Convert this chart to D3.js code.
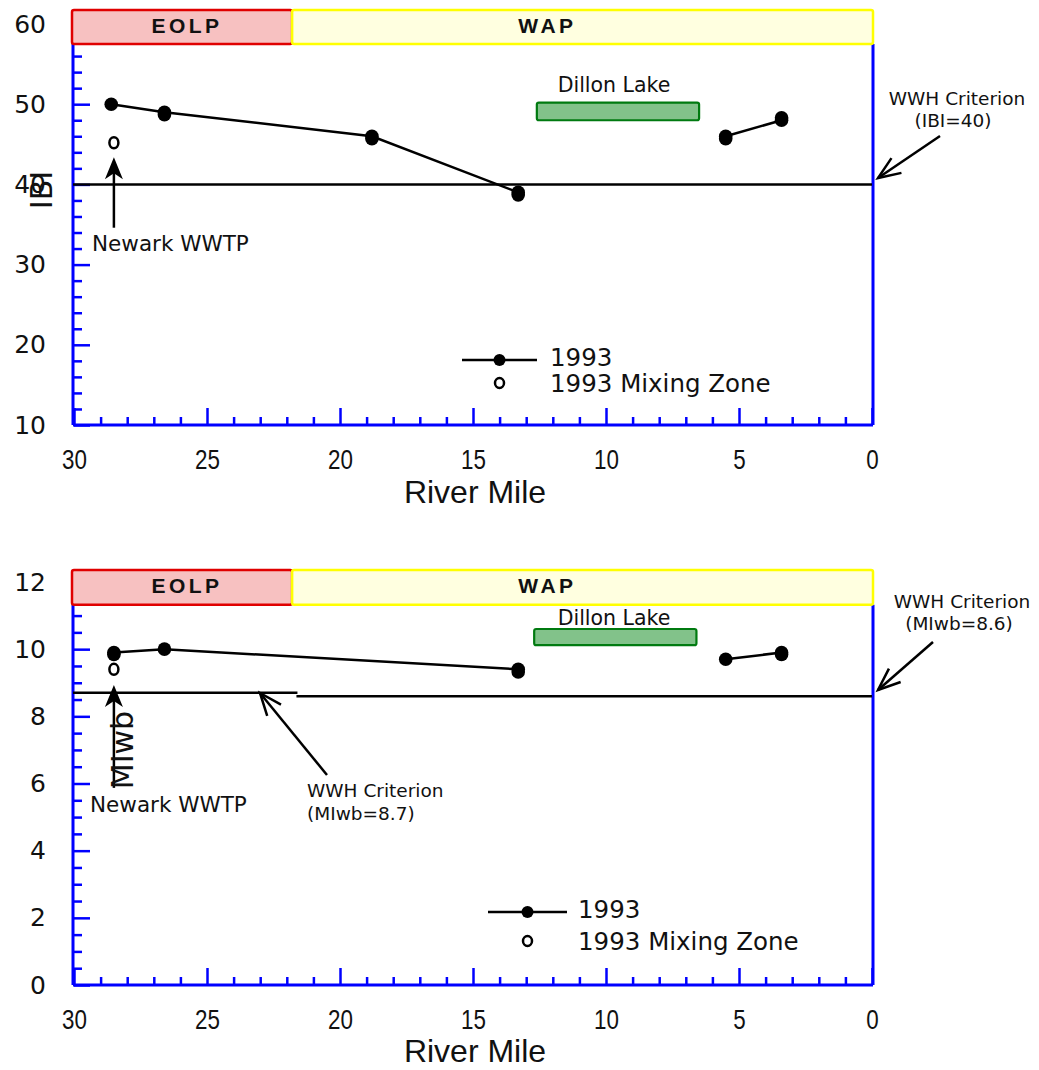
<!DOCTYPE html>
<html><head><meta charset="utf-8">
<script src="https://cdn.jsdelivr.net/npm/d3@7"></script>
<style>body{margin:0;background:#fff} svg{display:block}</style>
</head><body>
<svg id="c" width="1039" height="1070"></svg>
<script>
// ---------- DATA ----------
const xMajorTicks = [30, 25, 20, 15, 10, 5, 0];
const bandNames = ["EOLP", "WAP"];
const bandStart = [30, 21.8];
const bandEnd = [21.8, 0];
const bandLabelRm = [25.75, 12.2];
const dillonStartTop = 12.6, dillonEndTop = 6.5;
const dillonStartBot = 12.7, dillonEndBot = 6.6;

const ibiRm = [28.6, 26.6, 18.8, 13.3, 5.5, 3.4];
const ibiVal = [50, 49, 46, 39, 46, 48];
const ibiSeg = [0, 0, 0, 0, 1, 1];
const ibiRepRm = [26.6, 18.8, 13.3, 5.5, 3.4];
const ibiRepVal = [48.7, 45.7, 38.7, 45.7, 48.3];
const ibiMixRm = [28.5];
const ibiMixVal = [45.2];
const ibiYTicks = [10, 20, 30, 40, 50, 60];
const ibiCritFrom = [30], ibiCritTo = [0], ibiCritVal = [40];

const miwbRm = [28.5, 26.6, 13.3, 5.5, 3.4];
const miwbVal = [9.9, 10.0, 9.4, 9.7, 9.9];
const miwbSeg = [0, 0, 0, 1, 1];
const miwbRepRm = [28.5, 13.3, 3.4];
const miwbRepVal = [9.84, 9.32, 9.84];
const miwbMixRm = [28.5];
const miwbMixVal = [9.4];
const miwbYTicks = [0, 2, 4, 6, 8, 10, 12];
const miwbCritFrom = [30, 21.6], miwbCritTo = [21.6, 0], miwbCritVal = [8.7, 8.6];

// ---------- SETUP ----------
const svg = d3.select("#c");
const BLUE = "#0000ff";
const x = d3.scaleLinear().domain([30, 0]).range([74, 872]);
const xMinor = d3.range(0, 31, 1).filter(v => v % 5 !== 0);

const panels = [
  {
    y: d3.scaleLinear().domain([10, 60]).range([425, 24]),
    yMin: 10, axisTop: 57.5, bandLo: 57.5, bandHi: 61.75, minorStep: 2,
    yTicks: ibiYTicks, yLabel: "IBI", yLabelPos: [41, 190],
    rm: ibiRm, val: ibiVal, seg: ibiSeg, repRm: ibiRepRm, repVal: ibiRepVal,
    mixRm: ibiMixRm, mixVal: ibiMixVal,
    critFrom: ibiCritFrom, critTo: ibiCritTo, critVal: ibiCritVal,
    dillon: [dillonStartTop, dillonEndTop, 48, 50.2], dillonLabel: [614, 92],
    newark: [28.5, 34.6, 43.4], newarkText: [92, 251],
    legend: {x1: 462, x2: 537, y: 360, y2: 383, tx: 550},
    xLabelY: 503,
    crit: [{tip: [878, 178], tail: [940, 136], lines: ["WWH Criterion", "(IBI=40)"], tx: [957, 953], ty: [105, 127], anchor: "middle"}]
  },
  {
    y: d3.scaleLinear().domain([0, 12]).range([985, 582]),
    yMin: 0, axisTop: 11.32, bandLo: 11.32, bandHi: 12.36, minorStep: 0.5,
    yTicks: miwbYTicks, yLabel: "MIwb", yLabelPos: [122, 750],
    rm: miwbRm, val: miwbVal, seg: miwbSeg, repRm: miwbRepRm, repVal: miwbRepVal,
    mixRm: miwbMixRm, mixVal: miwbMixVal,
    critFrom: miwbCritFrom, critTo: miwbCritTo, critVal: miwbCritVal,
    dillon: [dillonStartBot, dillonEndBot, 10.12, 10.6], dillonLabel: [614, 625],
    newark: [28.5, 5.87, 8.93], newarkText: [90, 812],
    legend: {x1: 488, x2: 567, y: 912, y2: 941, tx: 578},
    xLabelY: 1062,
    crit: [
      {tip: [878, 690], tail: [933, 642], lines: ["WWH Criterion", "(MIwb=8.6)"], tx: [962, 959], ty: [608, 630], anchor: "middle"},
      {tip: [260, 693], tail: [327, 775], lines: ["WWH Criterion", "(MIwb=8.7)"], tx: [307, 307], ty: [797, 820], anchor: "start"}
    ]
  }
];

const FONT = "'DejaVu Sans', sans-serif";

function openArrow(g, tip, tail) {
  const ang = Math.atan2(tail[1] - tip[1], tail[0] - tip[0]);
  const L = 24, a = 0.38;
  g.append("line").attr("x1", tail[0]).attr("y1", tail[1]).attr("x2", tip[0]).attr("y2", tip[1])
    .attr("stroke", "#000").attr("stroke-width", 2.5);
  g.append("path")
    .attr("d", `M${tip[0] + L * Math.cos(ang + a)},${tip[1] + L * Math.sin(ang + a)} L${tip[0]},${tip[1]} L${tip[0] + L * Math.cos(ang - a)},${tip[1] + L * Math.sin(ang - a)}`)
    .attr("fill", "none").attr("stroke", "#000").attr("stroke-width", 2.5);
}

panels.forEach(p => {
  const y = p.y;
  const g = svg.append("g");
  const yBase = y(p.yMin);

  // y axis ticks (inside)
  const yMinor = d3.range(p.yMin, p.axisTop + 1e-9, p.minorStep)
    .filter(v => !p.yTicks.some(t => Math.abs(t - v) < 1e-6));
  g.append("g").attr("transform", `translate(${x(30)},0)`)
    .call(d3.axisLeft(y).tickValues(yMinor).tickSize(-8).tickFormat(""))
    .call(a => { a.select(".domain").remove(); a.selectAll("line").attr("stroke", BLUE).attr("stroke-width", 2.5); });
  g.append("g").attr("transform", `translate(${x(30)},0)`)
    .call(d3.axisLeft(y).tickValues(p.yTicks).tickSize(-16).tickPadding(28).tickFormat(d3.format("d")))
    .call(a => {
      a.select(".domain").remove();
      a.selectAll("line").attr("stroke", BLUE).attr("stroke-width", 2.5);
      a.selectAll("text").attr("font-family", FONT).attr("font-size", 25).attr("fill", "#111");
    });

  // x axis
  g.append("g").attr("transform", `translate(0,${yBase})`)
    .call(d3.axisBottom(x).tickValues(xMinor).tickSize(-8).tickFormat(""))
    .call(a => { a.select(".domain").remove(); a.selectAll("line").attr("stroke", BLUE).attr("stroke-width", 2.5); });
  g.append("g").attr("transform", `translate(0,${yBase})`)
    .call(d3.axisBottom(x).tickValues(xMajorTicks).tickSize(-17).tickPadding(24).tickFormat(d3.format("d")))
    .call(a => {
      a.select(".domain").remove();
      a.selectAll("line").attr("stroke", BLUE).attr("stroke-width", 2.5);
      a.selectAll("text").attr("font-family", "'Liberation Sans',Arial,sans-serif").attr("font-size", 28)
        .attr("transform", "scale(0.8,1)").attr("fill", "#111");
    });

  // frame lines
  g.append("line").attr("x1", x(30) - 1).attr("x2", x(0) + 1).attr("y1", yBase).attr("y2", yBase).attr("stroke", BLUE).attr("stroke-width", 3);
  g.append("line").attr("x1", x(30) - 1).attr("x2", x(30) - 1).attr("y1", y(p.axisTop)).attr("y2", yBase).attr("stroke", BLUE).attr("stroke-width", 3);
  g.append("line").attr("x1", x(0) + 1).attr("x2", x(0) + 1).attr("y1", y(p.axisTop)).attr("y2", yBase).attr("stroke", BLUE).attr("stroke-width", 3);

  // bands
  const bandFill = ["#f7c1c1", "#ffffe0"], bandStroke = ["#e00000", "#ffff00"];
  bandNames.forEach((n, i) => {
    g.append("rect")
      .attr("x", x(bandStart[i]) - (i === 0 ? 2 : 0)).attr("y", y(p.bandHi))
      .attr("width", x(bandEnd[i]) - x(bandStart[i]) + (i === 0 ? 2 : 1)).attr("height", y(p.bandLo) - y(p.bandHi))
      .attr("rx", 2).attr("fill", bandFill[i]).attr("stroke", bandStroke[i]).attr("stroke-width", 2.5);
  });
  bandNames.forEach((n, i) => {
    g.append("text").attr("x", x(bandLabelRm[i])).attr("y", (y(p.bandHi) + y(p.bandLo)) / 2 - 2)
      .attr("text-anchor", "middle").attr("dominant-baseline", "central")
      .attr("font-family", "'Liberation Sans',Arial,sans-serif").attr("font-weight", "bold")
      .attr("font-size", 21).attr("letter-spacing", 3.5).attr("fill", "#111").text(n);
  });

  // criterion lines
  p.critVal.forEach((v, i) => {
    g.append("line").attr("x1", x(p.critFrom[i]) - 1).attr("x2", x(p.critTo[i]))
      .attr("y1", y(v)).attr("y2", y(v)).attr("stroke", "#000").attr("stroke-width", 2.5);
  });

  // Dillon Lake
  const dl = p.dillon;
  g.append("rect").attr("x", x(dl[0])).attr("y", y(dl[3]))
    .attr("width", x(dl[1]) - x(dl[0])).attr("height", y(dl[2]) - y(dl[3]))
    .attr("rx", 2).attr("fill", "#82c28a").attr("stroke", "#007a10").attr("stroke-width", 2.2);
  g.append("text").attr("x", p.dillonLabel[0]).attr("y", p.dillonLabel[1]).attr("text-anchor", "middle")
    .attr("font-family", FONT).attr("font-size", 20.5).attr("fill", "#111").text("Dillon Lake");

  // data line
  const pts = p.rm.map((r, i) => ({r, v: p.val[i], s: p.seg[i]}));
  const line = d3.line().x(d => x(d.r)).y(d => y(d.v));
  d3.groups(pts, d => d.s).forEach(([s, arr]) => {
    g.append("path").attr("d", line(arr)).attr("fill", "none").attr("stroke", "#000").attr("stroke-width", 2.5);
  });
  const reps = p.repRm.map((r, i) => ({r, v: p.repVal[i]}));
  g.selectAll(null).data(reps).join("circle").attr("cx", d => x(d.r)).attr("cy", d => y(d.v)).attr("r", 6.8).attr("fill", "#000");
  g.selectAll(null).data(pts).join("circle").attr("cx", d => x(d.r)).attr("cy", d => y(d.v)).attr("r", 6.8).attr("fill", "#000");
  const mix = p.mixRm.map((r, i) => ({r, v: p.mixVal[i]}));
  g.selectAll(null).data(mix).join("ellipse").attr("cx", d => x(d.r)).attr("cy", d => y(d.v))
    .attr("rx", 4.5).attr("ry", 5.5).attr("fill", "#fff").attr("stroke", "#000").attr("stroke-width", 2.5);

  // Newark arrow (filled head)
  const nx = x(p.newark[0]), ny0 = y(p.newark[1]), ny1 = y(p.newark[2]);
  g.append("line").attr("x1", nx).attr("x2", nx).attr("y1", ny0).attr("y2", ny1 + 10).attr("stroke", "#000").attr("stroke-width", 2.5);
  g.append("path").attr("d", `M${nx},${ny1} L${nx - 9},${ny1 + 22} L${nx},${ny1 + 16} L${nx + 9},${ny1 + 22} Z`).attr("fill", "#000");
  g.append("text").attr("x", p.newarkText[0]).attr("y", p.newarkText[1])
    .attr("font-family", FONT).attr("font-size", 21.5).attr("fill", "#111").text("Newark WWTP");

  // Criterion annotations
  p.crit.forEach(c => {
    openArrow(g, c.tip, c.tail);
    c.lines.forEach((t, i) => {
      g.append("text").attr("x", c.tx[i]).attr("y", c.ty[i]).attr("text-anchor", c.anchor)
        .attr("font-family", FONT).attr("font-size", 18.5).attr("fill", "#111").text(t);
    });
  });

  // y label
  g.append("text").attr("transform", `translate(${p.yLabelPos[0]},${p.yLabelPos[1]}) rotate(-90)`)
    .attr("text-anchor", "middle").attr("dominant-baseline", "central")
    .attr("font-family", FONT).attr("font-size", 30).attr("fill", "#111").text(p.yLabel);

  // x label
  g.append("text").attr("x", 475).attr("y", p.xLabelY).attr("text-anchor", "middle")
    .attr("font-family", "'Liberation Sans',Arial,sans-serif").attr("font-size", 32).attr("fill", "#111").text("River Mile");

  // legend
  const L = p.legend;
  const lg = g.append("g");
  lg.append("line").attr("x1", L.x1).attr("x2", L.x2).attr("y1", L.y).attr("y2", L.y).attr("stroke", "#000").attr("stroke-width", 2.5);
  lg.append("circle").attr("cx", (L.x1 + L.x2) / 2).attr("cy", L.y).attr("r", 6).attr("fill", "#000");
  lg.append("ellipse").attr("cx", (L.x1 + L.x2) / 2).attr("cy", L.y2).attr("rx", 4.5).attr("ry", 5).attr("fill", "#fff").attr("stroke", "#000").attr("stroke-width", 2.5);
  lg.append("text").attr("x", L.tx).attr("y", L.y + 6).attr("font-family", FONT).attr("font-size", 24.5).attr("fill", "#111").text("1993");
  lg.append("text").attr("x", L.tx).attr("y", L.y2 + 9).attr("font-family", FONT).attr("font-size", 24.5).attr("fill", "#111").text("1993 Mixing Zone");
});
</script>
</body></html>
